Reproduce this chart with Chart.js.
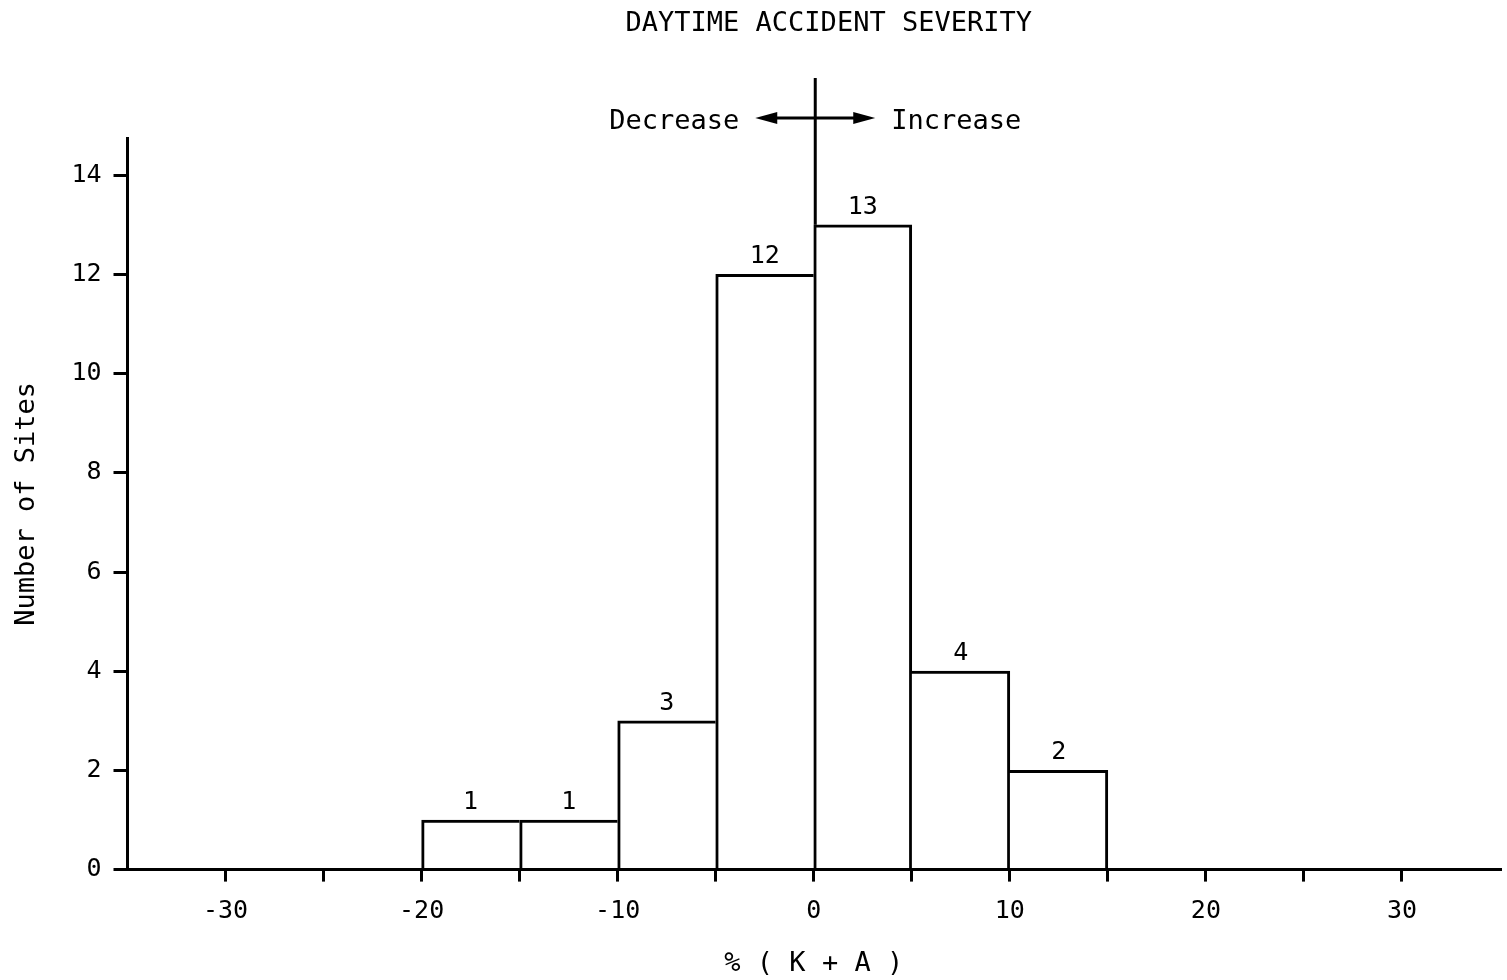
<!DOCTYPE html>
<html>
<head>
<meta charset="utf-8">
<script src="https://cdn.jsdelivr.net/npm/chart.js@4/dist/chart.umd.min.js"></script>
<style>
  html, body { margin: 0; padding: 0; background: #fff; }
  #wrap { width: 1507px; height: 980px; }
</style>
</head>
<body>
<div id="wrap"><canvas id="c" width="1507" height="980"></canvas></div>
<script>
// ---- data ----
const chartTitle = 'DAYTIME ACCIDENT SEVERITY';
const xTitle = '% ( K + A )';
const yTitle = 'Number of Sites';
const binStarts = [-20, -15, -10, -5, 0, 5, 10];
const binWidth = 5;
const counts = [1, 1, 3, 12, 13, 4, 2];
const xTickValues = [-30, -25, -20, -15, -10, -5, 0, 5, 10, 15, 20, 25, 30];
const yTickValues = [0, 2, 4, 6, 8, 10, 12, 14];
const leftNote = 'Decrease';
const rightNote = 'Increase';

const FONT = "'DejaVu Sans Mono', monospace";
const INK = '#000';
const LW = 3;

const points = binStarts.map((s, i) => ({ x: s + binWidth / 2, y: counts[i] }));

function sideBorders(ctx) {
  const i = ctx.dataIndex;
  const h = counts[i];
  const prev = i > 0 ? counts[i - 1] : -1;
  const next = i < counts.length - 1 ? counts[i + 1] : -1;
  return {
    top: LW,
    left: h >= prev ? LW : 0,
    right: h > next ? LW : 0,
    bottom: 0
  };
}

const annotations = {
  id: 'annotations',
  afterDatasetsDraw(chart) {
    const { ctx, chartArea, scales } = chart;
    const xs = scales.x, ys = scales.y;
    const meta = chart.getDatasetMeta(0);
    ctx.save();
    ctx.fillStyle = INK;
    ctx.strokeStyle = INK;
    // value labels
    ctx.font = '25px ' + FONT;
    ctx.textAlign = 'center';
    ctx.textBaseline = 'bottom';
    meta.data.forEach((el, i) => {
      ctx.fillText(String(counts[i]), el.x, el.y - 5);
    });
    // zero line extending above plot
    const x0 = xs.getPixelForValue(0) + LW / 2;
    const topY = chartArea.top - 60;
    ctx.lineWidth = LW;
    ctx.beginPath();
    ctx.moveTo(x0, ys.getPixelForValue(counts[binStarts.indexOf(0)]));
    ctx.lineTo(x0, topY);
    ctx.stroke();
    // double arrow
    const ay = chartArea.top - 20;
    const half = 60;
    ctx.beginPath();
    ctx.moveTo(x0 - half + 12, ay);
    ctx.lineTo(x0 + half - 12, ay);
    ctx.stroke();
    ctx.beginPath();
    ctx.moveTo(x0 - half, ay);
    ctx.lineTo(x0 - half + 22, ay - 6);
    ctx.lineTo(x0 - half + 22, ay + 6);
    ctx.closePath();
    ctx.fill();
    ctx.beginPath();
    ctx.moveTo(x0 + half, ay);
    ctx.lineTo(x0 + half - 22, ay - 6);
    ctx.lineTo(x0 + half - 22, ay + 6);
    ctx.closePath();
    ctx.fill();
    ctx.font = '27px ' + FONT;
    ctx.textBaseline = 'middle';
    ctx.textAlign = 'right';
    ctx.fillText(leftNote, x0 - half - 16, ay + 4);
    ctx.textAlign = 'left';
    ctx.fillText(rightNote, x0 + half + 16, ay + 4);
    // chart title
    ctx.textAlign = 'center';
    ctx.fillText(chartTitle, (chartArea.left + chartArea.right) / 2 + 15, 24);
    ctx.restore();
  }
};

new Chart(document.getElementById('c'), {
  type: 'bar',
  data: {
    datasets: [{
      data: points,
      backgroundColor: '#fff',
      borderColor: INK,
      borderWidth: sideBorders,
      borderSkipped: false,
      barPercentage: 1,
      categoryPercentage: 1
    }]
  },
  options: {
    responsive: false,
    animation: false,
    devicePixelRatio: 1,
    layout: { padding: { top: 138, left: 0, right: 7, bottom: 0 } },
    plugins: { legend: { display: false }, tooltip: { enabled: false }, title: { display: false } },
    scales: {
      x: {
        type: 'linear',
        offset: false,
        min: -35,
        max: 35,
        afterBuildTicks: (s) => { s.ticks = xTickValues.map(v => ({ value: v })); },
        ticks: {
          autoSkip: false,
          maxRotation: 0,
          color: INK,
          font: { family: FONT, size: 25 },
          padding: 15,
          callback: (v) => (v % 10 === 0 ? String(v) : '')
        },
        grid: { offset: false, drawOnChartArea: false, drawTicks: true, tickLength: 12, color: INK, lineWidth: LW },
        border: { display: true, color: INK, width: LW },
        title: { display: true, text: xTitle, color: INK, font: { family: FONT, size: 27 }, padding: { top: 6, bottom: 0 } }
      },
      y: {
        type: 'linear',
        min: 0,
        max: 14.75,
        afterBuildTicks: (s) => { s.ticks = yTickValues.map(v => ({ value: v })); },
        ticks: { color: INK, font: { family: FONT, size: 25 }, padding: 12 },
        grid: { drawOnChartArea: false, drawTicks: true, tickLength: 14, color: INK, lineWidth: LW },
        border: { display: true, color: INK, width: LW },
        title: { display: true, text: yTitle, color: INK, font: { family: FONT, size: 27 }, padding: { top: 11, bottom: 16 } }
      }
    }
  },
  plugins: [annotations]
});
</script>
</body>
</html>
